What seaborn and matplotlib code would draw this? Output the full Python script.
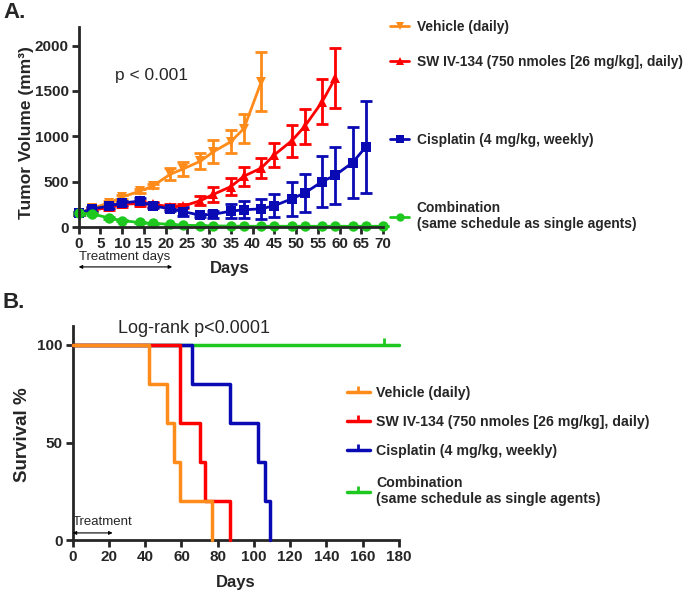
import matplotlib
matplotlib.use("Agg")
import numpy as np
import pandas as pd
import matplotlib.pyplot as plt
import seaborn as sns
from matplotlib.lines import Line2D

# ---- Panel A data: tumor volume (mean, SEM) ----
veh_days = [0, 3, 7, 10, 14, 17, 21, 24, 28, 31, 35, 38, 42]
veh_mean = [150, 205, 265, 330, 395, 450, 580, 640, 725, 830, 940, 1085, 1600]
veh_sem = [15, 20, 25, 25, 25, 25, 65, 75, 90, 130, 125, 155, 325]

sw_days = [0, 3, 7, 10, 14, 17, 21, 24, 28, 31, 35, 38, 42, 45, 49, 52, 56, 59]
sw_mean = [150, 185, 215, 250, 260, 250, 225, 230, 290, 360, 445, 560, 650, 795, 950, 1110, 1380, 1640]
sw_sem = [15, 20, 25, 25, 30, 25, 25, 25, 50, 80, 90, 105, 115, 130, 175, 195, 250, 330]

cis_days = [0, 3, 7, 10, 14, 17, 21, 24, 28, 31, 35, 38, 42, 45, 49, 52, 56, 59, 63, 66]
cis_mean = [150, 200, 230, 265, 285, 235, 200, 170, 130, 140, 175, 190, 200, 235, 310, 375, 500, 570, 710, 880]
cis_sem = [15, 20, 25, 25, 30, 25, 25, 45, 15, 40, 75, 95, 110, 130, 185, 210, 280, 315, 390, 510]

combo_days = [0, 3, 7, 10, 14, 17, 21, 24, 28, 31, 35, 38, 42, 45, 49, 52, 56, 59, 63, 66, 70]
combo_mean = [150, 145, 100, 70, 50, 40, 30, 20, 15, 12, 10, 8, 8, 8, 8, 8, 8, 8, 8, 8, 8]
combo_sem = [15, 10, 10, 8, 5, 5, 5, 3, 3, 2, 2, 2, 2, 2, 2, 2, 2, 2, 2, 2, 2]

# ---- Panel B data: Kaplan-Meier steps ----
veh_t = [0, 42, 52, 56, 59, 77]
veh_s = [100, 80, 60, 40, 20, 0]
sw_t = [0, 59, 70, 73, 87]
sw_s = [100, 60, 40, 20, 0]
cis_t = [0, 66, 87, 102, 106, 109]
cis_s = [100, 80, 60, 40, 20, 0]
combo_t = [0, 180]
combo_s = [100, 100]
combo_censor = 172

groups_a = ["Vehicle (daily)", "SW IV-134 (750 nmoles [26 mg/kg], daily)",
            "Cisplatin (4 mg/kg, weekly)", "Combination\n(same schedule as single agents)"]
colors = ["#ff8c1a", "#ff0000", "#0a0ab4", "#1ec81e"]
markers = ["v", "^", "s", "o"]

sns.set_style("ticks")
plt.rcParams["font.family"] = ["Liberation Sans", "DejaVu Sans"]

W, H = 685, 597
fig = plt.figure(figsize=(W / 100, H / 100), dpi=100)


def px_axes(l, t, r, b):
    return fig.add_axes([l / W, 1 - b / H, (r - l) / W, (b - t) / H])


def style_axes(ax):
    for s in ["top", "right"]:
        ax.spines[s].set_visible(False)
    for s in ["left", "bottom"]:
        ax.spines[s].set_linewidth(2)
    ax.tick_params(direction="out", length=5, width=2, labelsize=11, pad=2)
    for lab in ax.get_xticklabels() + ax.get_yticklabels():
        lab.set_fontweight("bold")


# ================= Panel A =================
axA = px_axes(78.7, 27.4, 383, 227)
series_a = [(veh_days, veh_mean, veh_sem), (sw_days, sw_mean, sw_sem),
            (cis_days, cis_mean, cis_sem), (combo_days, combo_mean, combo_sem)]
rows = []
for g, (d, m, e) in zip(groups_a, series_a):
    for di, mi in zip(d, m):
        rows.append({"day": di, "volume": mi, "group": g})
tumor = pd.DataFrame(rows)

for g, (d, m, e), c in zip(groups_a, series_a, colors):
    axA.errorbar(d, m, yerr=e, fmt="none", ecolor=c, elinewidth=2,
                 capsize=4, capthick=2, clip_on=False)
sns.lineplot(data=tumor, x="day", y="volume", hue="group", style="group",
             hue_order=groups_a, style_order=groups_a,
             palette=dict(zip(groups_a, colors)),
             markers=dict(zip(groups_a, markers)), dashes=False,
             markersize=7.5, markeredgewidth=0, linewidth=2,
             legend=False, ax=axA, clip_on=False)

axA.set_xlim(0, 70)
axA.set_ylim(0, 2200)
axA.set_xticks(range(0, 75, 5))
axA.set_yticks(range(0, 2001, 500))
style_axes(axA)
axA.set_xlabel("Days", fontsize=12, fontweight="bold")
axA.set_ylabel("Tumor Volume (mm³)", fontsize=12.5, fontweight="bold")
axA.xaxis.set_label_coords(0.497, -0.17)
axA.yaxis.set_label_coords(-0.147, 0.475)
axA.text(8.4, 1670, "p < 0.001", fontsize=12.5, va="center")

tA = axA.get_xaxis_transform()
axA.annotate("", xy=(21.5, -0.2), xytext=(0, -0.2), xycoords=tA, textcoords=tA,
             arrowprops=dict(arrowstyle="<|-|>", lw=0.8, color="black",
                             mutation_scale=5, shrinkA=0, shrinkB=0),
             annotation_clip=False)
axA.text(0.1, -0.15, "Treatment days", transform=tA, fontsize=9.5, va="center")

legA_y = [27, 62, 140, 216]
for g, c, mk, y in zip(groups_a, colors, markers, legA_y):
    h = Line2D([0], [0], color=c, lw=2, marker=mk, markersize=6, markeredgewidth=0)
    fig.legend([h], [g], loc="center left", bbox_to_anchor=(390 / W, 1 - y / H),
               frameon=False, borderpad=0, borderaxespad=0, handlelength=1.4,
               handletextpad=0.55, prop={"size": 9.9, "weight": "bold"})

# ================= Panel B =================
axB = px_axes(72.7, 325.5, 399, 540)
series_b = [(veh_t, veh_s), (sw_t, sw_s), (cis_t, cis_s), (combo_t, combo_s)]
rows = []
for g, (t, s) in zip(groups_a, series_b):
    for ti, si in zip(t, s):
        rows.append({"time": ti, "surv": si, "group": g})
km = pd.DataFrame(rows)

order_b = groups_a[::-1]  # vehicle drawn last, on top
sns.lineplot(data=km, x="time", y="surv", hue="group", hue_order=order_b,
             palette=dict(zip(groups_a, colors)), drawstyle="steps-post",
             linewidth=2.5, legend=False, ax=axB, clip_on=False)
for i, ln in enumerate(axB.lines):
    ln.set_zorder(2 + i)
axB.plot([combo_censor], [100], marker=2, markersize=5, markeredgewidth=2,
         color=colors[3], linestyle="none", clip_on=False)

axB.set_xlim(0, 180)
axB.set_ylim(0, 110)
axB.set_xticks(range(0, 181, 20))
axB.set_yticks([0, 50, 100])
style_axes(axB)
axB.set_xlabel("Days", fontsize=12, fontweight="bold")
axB.set_ylabel("Survival %", fontsize=13.5, fontweight="bold")
axB.xaxis.set_label_coords(0.5, -0.165)
axB.yaxis.set_label_coords(-0.128, 0.49)
axB.text(25, 108.5, "Log-rank p<0.0001", fontsize=13, va="center")

tB = axB.get_xaxis_transform()
axB.annotate("", xy=(22, 0.033), xytext=(0, 0.033), xycoords=tB, textcoords=tB,
             arrowprops=dict(arrowstyle="<|-|>", lw=0.8, color="black",
                             mutation_scale=5, shrinkA=0, shrinkB=0),
             annotation_clip=False)
axB.text(0.2, 0.085, "Treatment", transform=tB, fontsize=9.5, va="center")

legB_y = [393, 422, 451, 491]
for g, c, y in zip(groups_a, colors, legB_y):
    h = Line2D([0], [0], color=c, lw=2.5, marker=2, markersize=4, markeredgewidth=2)
    fig.legend([h], [g], loc="center left", bbox_to_anchor=(347 / W, 1 - y / H),
               frameon=False, borderpad=0, borderaxespad=0, handlelength=1.6,
               handletextpad=0.45, prop={"size": 10.2, "weight": "bold"})

fig.text(3 / W, 1 - 12 / H, "A.", fontsize=16, fontweight="bold", va="center")
fig.text(3 / W, 1 - 302 / H, "B.", fontsize=16, fontweight="bold", va="center")

fig.savefig("out.png", dpi=100)
